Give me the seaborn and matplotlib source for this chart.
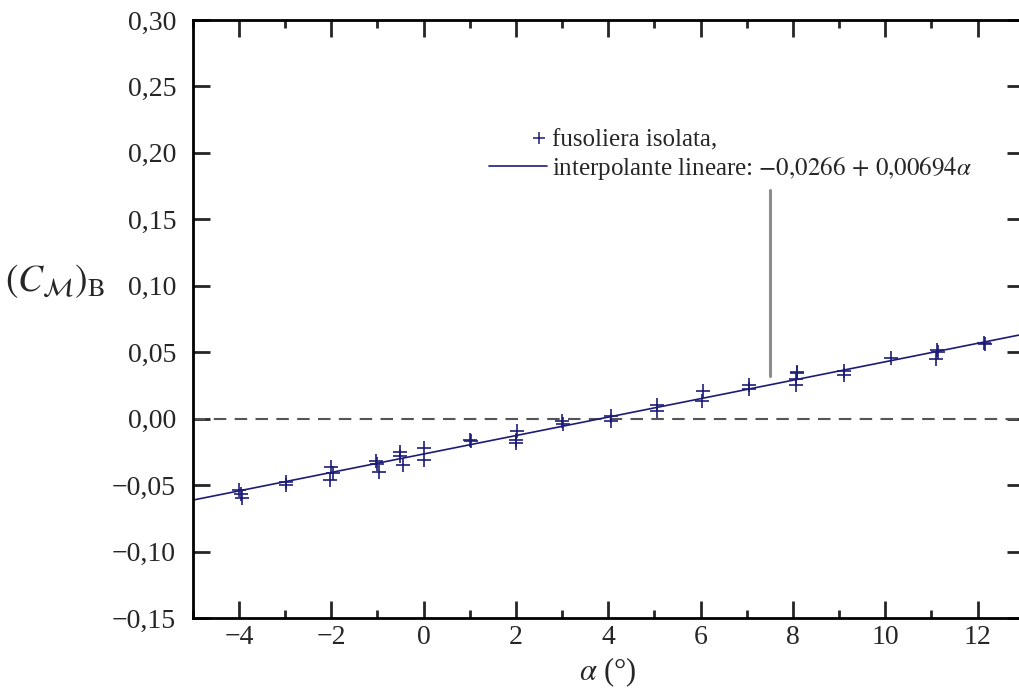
import matplotlib
matplotlib.use("Agg")
import matplotlib.pyplot as plt
from matplotlib.legend_handler import HandlerLine2D
from matplotlib.ticker import FuncFormatter, MultipleLocator
from matplotlib.lines import Line2D
import seaborn as sns
import pandas as pd

# angle of attack (deg) and measured pitching moment coefficient, fuselage alone
alpha = [-4.0, -3.95, -3.93, -2.97, -2.97, -2.0, -1.97, -2.02, -1.03, -1.0, -0.97,
         -0.5, -0.5, -0.45, 0.02, 0.0, 1.0, 1.03, 2.03, 2.0, 2.0, 3.0, 3.02,
         4.05, 4.05, 5.05, 5.05, 6.05, 6.03, 7.06, 7.06, 8.08, 8.1, 8.06, 8.06,
         9.1, 9.1, 10.12, 11.13, 11.15, 11.1, 12.13, 12.16]
cm_b = [-0.054, -0.057, -0.060, -0.048, -0.050, -0.036, -0.041, -0.046, -0.032, -0.034, -0.040,
        -0.025, -0.028, -0.035, -0.022, -0.031, -0.016, -0.017, -0.009, -0.016, -0.018, -0.002, -0.004,
        0.002, -0.002, 0.010, 0.006, 0.021, 0.013, 0.025, 0.022, 0.035, 0.034, 0.030, 0.025,
        0.036, 0.033, 0.046, 0.052, 0.050, 0.045, 0.057, 0.056]

# linear fit shown in the legend
fit_c0 = -0.0266
fit_c1 = 0.00694
fit_alpha = [-5.0, 13.0]

# grey marker line
mark_alpha = [7.5, 7.5]
mark_cm = [0.032, 0.172]

df = pd.DataFrame({"alpha": alpha, "cm": cm_b})
df_fit = pd.DataFrame({"alpha": fit_alpha, "cm": [fit_c0 + fit_c1 * a for a in fit_alpha]})

sns.set_style("ticks")
plt.rcParams['font.family'] = ['Liberation Serif', 'DejaVu Serif']
plt.rcParams['mathtext.fontset'] = 'stix'

navy = "#1c1c78"

fig = plt.figure(figsize=(10.19, 6.93), dpi=100)
ax = fig.add_axes([192.7 / 1019, 75 / 693, 831 / 1019, 598 / 693])

ax.axhline(0, color="#555555", lw=1.5, ls=(0, (6, 4)), zorder=1)
ax.plot(mark_alpha, mark_cm, color="#8c8c8c", lw=2.2, zorder=1)

sns.lineplot(data=df_fit, x="alpha", y="cm", color=navy, lw=1.2, ax=ax, zorder=2, legend=False)
sns.scatterplot(data=df, x="alpha", y="cm", marker="+", s=110, color=navy,
                linewidth=1.2, ax=ax, zorder=3, legend=False)

ax.set_xlim(-5, 13)
ax.set_ylim(-0.15, 0.30)
ax.xaxis.set_major_locator(MultipleLocator(2))
ax.xaxis.set_minor_locator(MultipleLocator(1))
ax.yaxis.set_major_locator(MultipleLocator(0.05))


def fmt_x(v, pos):
    return f"{v:.0f}".replace("-", "\u2212")


def fmt_y(v, pos):
    s = f"{v:.2f}".replace(".", ",")
    if s.startswith("-0,00"):
        s = "0,00"
    return s.replace("-", "\u2212")


ax.xaxis.set_major_formatter(FuncFormatter(fmt_x))
ax.yaxis.set_major_formatter(FuncFormatter(fmt_y))

ax.tick_params(which="both", direction="in", top=True, right=True, width=2, labelsize=20)
ax.tick_params(which="major", length=12)
ax.tick_params(which="minor", length=6)
ax.tick_params(axis="y", pad=12)
ax.tick_params(axis="x", pad=5)
for sp in ax.spines.values():
    sp.set_linewidth(2)
    sp.set_color("black")

ax.set_xlabel(r"$\alpha$ (°)", fontsize=22)
ax.xaxis.set_label_coords(0.5, -0.062)
ax.set_ylabel("")
fig.text(5 / 1019, 1 - 281 / 693, r"$\left(C_{\mathcal{M}}\right)_{\mathrm{B}}$",
         fontsize=27, va="center", ha="left")


class RightMarkerHandler(HandlerLine2D):
    # one marker at the right end of the handle, next to the text
    def get_numpoints(self, legend):
        return 2

    def get_xdata(self, legend, xdescent, ydescent, width, height, fontsize):
        xr = width - xdescent - 0.3 * fontsize
        return [xr], [xr]


h_pts = Line2D([], [], ls="none", marker="+", ms=9, mew=1.1, color=navy)
h_line = Line2D([], [], color=navy, lw=1.2)
ax.legend([h_pts, h_line],
          ["fusoliera isolata,", r"interpolante lineare: $-0{,}0266\,+\,0{,}00694\alpha$"],
          handler_map={h_pts: RightMarkerHandler()},
          frameon=False, fontsize=18, loc="upper left",
          bbox_to_anchor=(489 / 1019, 1 - 129 / 693), bbox_transform=fig.transFigure,
          handlelength=2.3, handletextpad=0.2, labelspacing=0.14, borderpad=0, borderaxespad=0)

fig.savefig("out.png", dpi=100)
